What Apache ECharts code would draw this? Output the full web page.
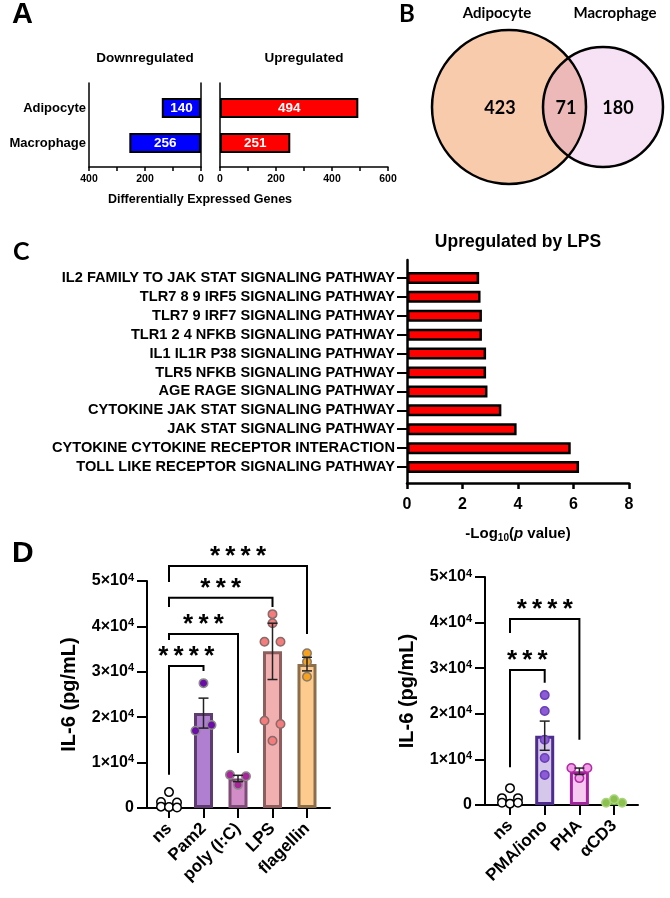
<!DOCTYPE html>
<html>
<head>
<meta charset="utf-8">
<script src="https://cdn.jsdelivr.net/npm/echarts@6/dist/echarts.min.js"></script>
<style>
  html, body { margin: 0; padding: 0; background: #fff; }
  #main { width: 670px; height: 898px; }
</style>
</head>
<body>
<div id="main"></div>
<script>
// A - differentially expressed genes
const deCells = ['Adipocyte', 'Macrophage'];
const deDown = [140, 256];
const deUp = [494, 251];

// B - overlap of upregulated genes (only adipocyte, both, only macrophage)
const vennSets = ['Adipocyte', 'Macrophage'];
const vennCounts = [423, 71, 180];

// C - pathways upregulated by LPS
const pathways = [
  'IL2 FAMILY TO JAK STAT SIGNALING PATHWAY',
  'TLR7 8 9 IRF5 SIGNALING PATHWAY',
  'TLR7 9 IRF7 SIGNALING PATHWAY',
  'TLR1 2 4 NFKB SIGNALING PATHWAY',
  'IL1 IL1R P38 SIGNALING PATHWAY',
  'TLR5 NFKB SIGNALING PATHWAY',
  'AGE RAGE SIGNALING PATHWAY',
  'CYTOKINE JAK STAT SIGNALING PATHWAY',
  'JAK STAT SIGNALING PATHWAY',
  'CYTOKINE CYTOKINE RECEPTOR INTERACTION',
  'TOLL LIKE RECEPTOR SIGNALING PATHWAY'
];
const pathwayLogP = [2.6, 2.65, 2.7, 2.7, 2.85, 2.85, 2.9, 3.4, 3.95, 5.9, 6.2];

// D left - IL-6 after TLR ligands
const tlrGroups = ['ns', 'Pam2', 'poly (I:C)', 'LPS', 'flagellin'];
const tlrMean = [1100, 20900, 6500, 34500, 31700];
const tlrSem = [0, 3300, 700, 6200, 1500];
const tlrPoints = [
  [3500, 1300, 1200, 300, 200, 100],
  [27500, 17000, 18300],
  [7300, 7000, 5100],
  [42700, 40700, 36600, 36600, 19200, 18500, 14800],
  [34100, 32200, 28900]
];
// [from, to, bracket, left leg end, right leg end, stars]
const tlrSig = [
  [0, 4, 53300, 49800, 38300, '****'],
  [0, 3, 46300, 44300, 44300, '***'],
  [0, 2, 38300, 37000, 12100, '***'],
  [0, 1, 31300, 7300, 30200, '****']
];

// D right - IL-6 after T cell stimuli
const tcGroups = ['ns', 'PMA/iono', 'PHA', 'αCD3'];
const tcMean = [1200, 15200, 7400, 800];
const tcSem = [0, 3200, 700, 0];
const tcPoints = [
  [3700, 1500, 1500, 500, 300, 500],
  [24100, 20600, 14300, 10300, 6600],
  [8100, 8100, 5900],
  [500, 1250, 500]
];
const tcSig = [
  [0, 2, 40800, 37700, 14300, '****'],
  [0, 1, 29600, 8300, 26800, '***']
];

// colours
const tlrFill = ['#FFFFFF', '#B07FD1', '#D28CC8', '#F2AFAF', '#FCCB8D'];
const tlrEdge = ['#000000', '#5E3D6E', '#7E4C76', '#8E5E5E', '#8D6E4A'];
const tlrDot = ['#FFFFFF', '#6B0DA6', '#A8259A', '#F47C7C', '#F6A21E'];
const tlrDotEdge = ['#000000', '#8A8A8A', '#8A8A8A', '#8A6A6A', '#8A7A6A'];
const tcFill = ['#FFFFFF', '#D4C7EA', '#F5C9F0', '#D2EABD'];
const tcEdge = ['#000000', '#4E2B8F', '#A3219C', '#6AAE3C'];
const tcDot = ['#FFFFFF', '#8B5CD6', '#EFA0E6', '#8CC152'];
const tcDotEdge = ['#000000', '#6A3FB8', '#B32AA6', '#A9D47A'];

const GP = '"Liberation Sans", Arial, sans-serif';
const OF = 'Lato, "Open Sans", sans-serif';

// GraphPad-like scatter: points close in y share a row, rows are centred
function swarm(vals, ppu) {
  const order = vals.map((v, i) => i).sort((a, b) => vals[a] - vals[b]);
  const off = vals.map(() => 0);
  let row = [];
  const flush = () => {
    row.sort((a, b) => a - b);
    const n = row.length;
    row.forEach((idx, k) => { off[idx] = n > 1 ? (k / (n - 1) - 0.5) * 16 : 0; });
    row = [];
  };
  order.forEach(i => {
    if (row.length && ((vals[i] - vals[row[0]]) * ppu >= 8 || row.length >= 3)) flush();
    row.push(i);
  });
  flush();
  return off;
}

function dotData(points, fills, edges, ppu) {
  const out = [];
  points.forEach((vals, g) => {
    const offs = swarm(vals, ppu);
    vals.forEach((v, k) => out.push({
      value: [g, v],
      symbolOffset: [offs[k], 0],
      itemStyle: { color: fills[g], borderColor: edges[g] }
    }));
  });
  return out;
}

function errorBarItem(params, api) {
  const x = api.value(0), m = api.value(1), s = api.value(2);
  if (!s) return null;
  const lo = api.coord([x, m - s]);
  const hi = api.coord([x, m + s]);
  const st = { stroke: '#222', lineWidth: 1.5 };
  return {
    type: 'group',
    children: [
      { type: 'line', shape: { x1: lo[0], y1: lo[1], x2: hi[0], y2: hi[1] }, style: st },
      { type: 'line', shape: { x1: lo[0] - 5, y1: lo[1], x2: lo[0] + 5, y2: lo[1] }, style: st },
      { type: 'line', shape: { x1: hi[0] - 5, y1: hi[1], x2: hi[0] + 5, y2: hi[1] }, style: st }
    ]
  };
}

function bracketRenderer(sig) {
  return function (params, api) {
    const a = api.coord([api.value(0), api.value(3)]);
    const b = api.coord([api.value(1), api.value(4)]);
    const top = api.coord([api.value(0), api.value(2)])[1];
    const stars = sig[params.dataIndex][5].split('').join('\u2009');
    return {
      type: 'group',
      children: [
        { type: 'polyline', shape: { points: [[a[0], a[1]], [a[0], top], [b[0], top], [b[0], b[1]]] },
          style: { stroke: '#000', lineWidth: 2, fill: null } },
        { type: 'text', x: (a[0] + b[0]) / 2, y: top - 9,
          style: { text: stars, font: 'bold 26px ' + GP, fill: '#000',
                   textAlign: 'center', textVerticalAlign: 'middle' } }
      ]
    };
  };
}

function lineOnlyAxis(gridIndex, position, width) {
  return {
    gridIndex, type: 'value', min: 0, max: 1, position,
    axisLine: { show: true, onZero: false, lineStyle: { color: '#000', width } },
    axisTick: { show: false }, axisLabel: { show: false }, splitLine: { show: false }
  };
}
function hiddenAxis(gridIndex, min, max, inverse) {
  return { gridIndex, type: 'value', min, max, inverse: !!inverse, show: false, splitLine: { show: false } };
}
function geneAxis(gridIndex, max, inverse) {
  return {
    gridIndex, type: 'value', min: 0, max, interval: 100, inverse,
    axisLine: { onZero: false, lineStyle: { color: '#000', width: 1.5 } },
    axisTick: { length: 4, lineStyle: { color: '#000', width: 1.5 } },
    axisLabel: { formatter: v => (v % 200 === 0 ? String(v) : ''), fontSize: 10.5, fontWeight: 'bold', color: '#000', margin: 7 },
    splitLine: { show: false }
  };
}
function il6Axis(gridIndex) {
  return {
    gridIndex, type: 'value', min: 0, max: 50000, interval: 10000,
    name: 'IL-6 (pg/mL)', nameLocation: 'middle', nameGap: 68,
    nameTextStyle: { fontSize: 20, fontWeight: 'bold', color: '#000' },
    axisLine: { show: true, onZero: false, lineStyle: { color: '#000', width: 2 } },
    axisTick: { show: true, length: 10, lineStyle: { color: '#000', width: 2 } },
    axisLabel: {
      margin: 13,
      formatter: v => (v === 0 ? '{n|0}' : '{n|' + v / 10000 + '×10}{sup|4}'),
      rich: {
        n: { fontSize: 16, fontWeight: 'bold', color: '#000', verticalAlign: 'middle' },
        sup: { fontSize: 11, fontWeight: 'bold', color: '#000', verticalAlign: 'top', padding: [0, 0, 7, 0] }
      }
    },
    splitLine: { show: false }
  };
}
function groupAxis(gridIndex, data) {
  return {
    gridIndex, type: 'category', data,
    axisLine: { show: false },
    axisTick: { show: true, alignWithLabel: true, interval: 0, length: 10, lineStyle: { color: '#000', width: 2 } },
    axisLabel: { interval: 0, rotate: 45, margin: 18, fontSize: 17, fontWeight: 'bold', color: '#000' }
  };
}

const PPU = 227 / 50000;

const chart = echarts.init(document.getElementById('main'));

// Venn geometry: two circles, lens traced along both arcs
const vx1 = 509, vx2 = 603, vy = 107, vr1 = 77, vr2 = 60;
const vd = vx2 - vx1;
const va = (vd * vd + vr1 * vr1 - vr2 * vr2) / (2 * vd);
const vh = Math.sqrt(vr1 * vr1 - va * va);
const angSmall = Math.atan2(vh, va - vd);
const angBig = Math.atan2(vh, va);
const lens = [];
for (let k = 0; k <= 40; k++) {
  const t = angSmall + (2 * Math.PI - 2 * angSmall) * k / 40;  // small circle, left side
  lens.push([vx2 + vr2 * Math.cos(t), vy + vr2 * Math.sin(t)]);
}
for (let k = 0; k <= 40; k++) {
  const t = -angBig + (2 * angBig) * k / 40;                   // big circle, right side
  lens.push([vx1 + vr1 * Math.cos(t), vy + vr1 * Math.sin(t)]);
}

function label(text, x, y, font, align) {
  return { type: 'text', x, y, style: { text, font, fill: '#000', textAlign: align || 'center', textVerticalAlign: 'middle' } };
}

const option = {
  animation: false,
  textStyle: { fontFamily: GP },
  grid: [
    { left: 89, width: 112, top: 83, height: 84 },
    { left: 89, width: 112, top: 90.5, height: 70 },
    { left: 220, width: 168, top: 83, height: 84 },
    { left: 220, width: 168, top: 90.5, height: 70 },
    { left: 407, width: 222, top: 260, height: 223 },
    { left: 407, width: 222, top: 268.5, height: 208 },
    { left: 147, width: 183, top: 581, height: 227 },
    { left: 151.75, width: 172.5, top: 581, height: 227 },
    { left: 485, width: 153, top: 577, height: 228 },
    { left: 492.65, width: 138.8, top: 577, height: 228 }
  ],
  xAxis: [
    geneAxis(0, 400, true),
    hiddenAxis(1, 0, 400, true),
    geneAxis(2, 600, false),
    hiddenAxis(3, 0, 600),
    {
      gridIndex: 4, type: 'value', min: 0, max: 8, interval: 2,
      name: '-Log{sub|10}({it|p} value)', nameLocation: 'middle', nameGap: 42,
      nameTextStyle: {
        fontSize: 15, fontWeight: 'bold', color: '#000',
        rich: {
          sub: { fontSize: 10, fontWeight: 'bold', color: '#000', verticalAlign: 'bottom', padding: [8, 0, 0, 0] },
          it: { fontSize: 15, fontWeight: 'bold', fontStyle: 'italic', color: '#000' }
        }
      },
      axisLine: { onZero: false, lineStyle: { color: '#000', width: 2.5 } },
      axisTick: { length: 6, lineStyle: { color: '#000', width: 2.5 } },
      axisLabel: { fontSize: 16, fontWeight: 'bold', color: '#000', margin: 14 },
      splitLine: { show: false }
    },
    hiddenAxis(5, 0, 8),
    lineOnlyAxis(6, 'bottom', 2),
    groupAxis(7, tlrGroups),
    lineOnlyAxis(8, 'bottom', 2),
    groupAxis(9, tcGroups)
  ],
  yAxis: [
    lineOnlyAxis(0, 'left', 1.5),
    lineOnlyAxis(0, 'right', 1.5),
    {
      gridIndex: 1, type: 'category', data: deCells, inverse: true,
      axisLine: { show: false }, axisTick: { show: false },
      axisLabel: { fontSize: 13, fontWeight: 'bold', color: '#000', margin: 3 }
    },
    lineOnlyAxis(2, 'left', 1.5),
    { gridIndex: 3, type: 'category', data: deCells, inverse: true, show: false },
    lineOnlyAxis(4, 'left', 2.5),
    {
      gridIndex: 5, type: 'category', data: pathways, inverse: true,
      axisLine: { show: false },
      axisTick: { show: true, alignWithLabel: true, interval: 0, length: 10, lineStyle: { color: '#000', width: 2 } },
      axisLabel: { interval: 0, fontSize: 14.6, fontWeight: 'bold', color: '#000', margin: 12 }
    },
    il6Axis(6),
    hiddenAxis(7, 0, 50000),
    il6Axis(8),
    hiddenAxis(9, 0, 50000)
  ],
  series: [
    {
      type: 'bar', xAxisIndex: 1, yAxisIndex: 2, data: deDown, barWidth: 20,
      itemStyle: { color: '#0000FF', borderColor: '#000', borderWidth: 2 },
      label: { show: true, position: 'inside', color: '#fff', fontWeight: 'bold', fontSize: 13.5 }
    },
    {
      type: 'bar', xAxisIndex: 3, yAxisIndex: 4, data: deUp, barWidth: 20,
      itemStyle: { color: '#FF0000', borderColor: '#000', borderWidth: 2 },
      label: { show: true, position: 'inside', color: '#fff', fontWeight: 'bold', fontSize: 13.5 }
    },
    {
      type: 'bar', xAxisIndex: 5, yAxisIndex: 6, data: pathwayLogP, barWidth: 12,
      itemStyle: { color: '#FF0000', borderColor: '#000', borderWidth: 2.5 }
    },
    // D left
    {
      type: 'bar', xAxisIndex: 7, yAxisIndex: 8, barWidth: 19, z: 2,
      data: tlrMean.map((v, i) => ({ value: v, itemStyle: { color: tlrFill[i], borderColor: tlrEdge[i], borderWidth: i === 0 ? 1.5 : 3 } }))
    },
    {
      type: 'scatter', xAxisIndex: 7, yAxisIndex: 8, symbolSize: 8.5, z: 3,
      itemStyle: { borderWidth: 1.5, opacity: 1 },
      data: dotData(tlrPoints, tlrDot, tlrDotEdge, PPU)
    },
    {
      type: 'custom', xAxisIndex: 7, yAxisIndex: 8, z: 4, clip: false,
      encode: { x: 0, y: 1 }, renderItem: errorBarItem,
      data: tlrMean.map((m, i) => [i, m, tlrSem[i]])
    },
    {
      type: 'custom', xAxisIndex: 7, yAxisIndex: 8, z: 4, clip: false,
      encode: { x: 0, y: 2 }, renderItem: bracketRenderer(tlrSig),
      data: tlrSig.map(s => s.slice(0, 5))
    },
    // D right
    {
      type: 'bar', xAxisIndex: 9, yAxisIndex: 10, barWidth: 19, z: 2,
      data: tcMean.map((v, i) => ({ value: v, itemStyle: { color: tcFill[i], borderColor: tcEdge[i], borderWidth: i === 0 ? 1.5 : 3 } }))
    },
    {
      type: 'scatter', xAxisIndex: 9, yAxisIndex: 10, symbolSize: 8.5, z: 3,
      itemStyle: { borderWidth: 1.5, opacity: 1 },
      data: dotData(tcPoints, tcDot, tcDotEdge, PPU)
    },
    {
      type: 'custom', xAxisIndex: 9, yAxisIndex: 10, z: 4, clip: false,
      encode: { x: 0, y: 1 }, renderItem: errorBarItem,
      data: tcMean.map((m, i) => [i, m, tcSem[i]])
    },
    {
      type: 'custom', xAxisIndex: 9, yAxisIndex: 10, z: 4, clip: false,
      encode: { x: 0, y: 2 }, renderItem: bracketRenderer(tcSig),
      data: tcSig.map(s => s.slice(0, 5))
    }
  ],
  graphic: {
    elements: [
      // panel letters
      label('A', 12, 15, 'bold 29px ' + GP, 'left'),
      label('B', 399, 14, 'bold 24px ' + OF, 'left'),
      label('C', 13, 252, 'bold 25px ' + OF, 'left'),
      label('D', 12, 554, 'bold 30px ' + GP, 'left'),
      // panel A titles
      label('Downregulated', 145, 58, 'bold 13.5px ' + GP),
      label('Upregulated', 304, 58, 'bold 13.5px ' + GP),
      label('Differentially Expressed Genes', 200, 200, 'bold 12.5px ' + GP),
      // panel C title
      label('Upregulated by LPS', 518, 242, 'bold 17.5px ' + GP),
      // panel B venn
      { type: 'circle', shape: { cx: vx1, cy: vy, r: vr1 }, style: { fill: '#F8CBAD' } },
      { type: 'circle', shape: { cx: vx2, cy: vy, r: vr2 }, style: { fill: '#F6E2F4' } },
      { type: 'polygon', shape: { points: lens }, style: { fill: '#ECB8B8' } },
      { type: 'circle', shape: { cx: vx1, cy: vy, r: vr1 }, style: { fill: 'none', stroke: '#000', lineWidth: 2.5 } },
      { type: 'circle', shape: { cx: vx2, cy: vy, r: vr2 }, style: { fill: 'none', stroke: '#000', lineWidth: 2.5 } },
      label(vennSets[0], 497, 13, 'bold 15px ' + OF),
      label(vennSets[1], 615, 13, 'bold 15px ' + OF),
      label(String(vennCounts[0]), 500, 108, 'bold 18px ' + OF),
      label(String(vennCounts[1]), 566, 108, 'bold 18px ' + OF),
      label(String(vennCounts[2]), 618, 108, 'bold 18px ' + OF)
    ]
  }
};

chart.setOption(option);
</script>
</body>
</html>
